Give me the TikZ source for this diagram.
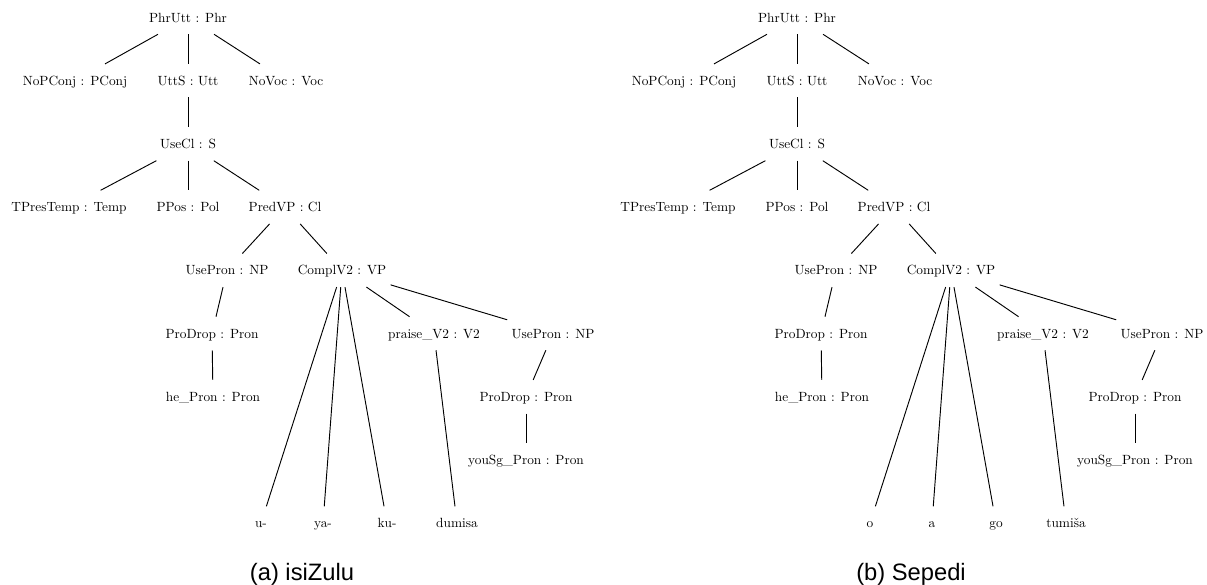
\documentclass[tikz,border=0pt]{standalone}
\usepackage{fontspec}
\usepackage{tikz}
\usepackage{xcolor}
\newfontfamily\capfont{Liberation Sans}

\begin{document}
\begin{tikzpicture}[x=0.75pt, y=-0.75pt, line width=0.7pt,
    lbl/.style={inner xsep=3pt, inner ysep=0pt, minimum height=24.5pt,
      text height=6.8pt, text depth=0pt, font=\fontsize{10}{12}\selectfont},
    subcap/.style={anchor=base, font=\capfont\fontsize{17.8}{20}\selectfont}]
  \useasboundingbox (0,0) rectangle (1207,585);
  \foreach \dx/\tr/\la/\lb/\lc/\ld/\capt in
      {0/a/u-/ya-/ku-/dumisa/{(a) isiZulu}, 609/b/o/a/go/tumiša/{(b) Sepedi}} {
    \begin{scope}[shift={(\dx,0)}]
      % tree
      \node[lbl] (\tr-phr) at (188,17.5) {PhrUtt : Phr};
      \node[lbl] (\tr-conj) at (75,80.7) {NoPConj : PConj};
      \node[lbl] (\tr-utt) at (188,80.7) {UttS : Utt};
      \node[lbl] (\tr-voc) at (286,80.7) {NoVoc : Voc};
      \node[lbl] (\tr-cl) at (188,143.9) {UseCl : S};
      \node[lbl] (\tr-temp) at (69,207.1) {TPresTemp : Temp};
      \node[lbl] (\tr-pol) at (188,207.1) {PPos : Pol};
      \node[lbl] (\tr-pred) at (285,207.1) {PredVP : Cl};
      \node[lbl] (\tr-np) at (227,270.3) {UsePron : NP};
      \node[lbl] (\tr-vp) at (342,270.3) {ComplV2 : VP};
      \node[lbl] (\tr-pron) at (212,333.5) {ProDrop : Pron};
      \node[lbl] (\tr-he) at (213,396.7) {he\_Pron : Pron};
      \node[lbl] (\tr-v) at (434,333.5) {praise\_V2 : V2};
      \node[lbl] (\tr-npb) at (553,333.5) {UsePron : NP};
      \node[lbl] (\tr-pronb) at (526,396.7) {ProDrop : Pron};
      \node[lbl] (\tr-you) at (526,459.9) {youSg\_Pron : Pron};
      % words
      \node[lbl] (\tr-wa) at (261,523.1) {\la};
      \node[lbl] (\tr-wb) at (323,523.1) {\lb};
      \node[lbl] (\tr-wc) at (387,523.1) {\lc};
      \node[lbl] (\tr-wd) at (457,523.1) {\ld};
      \node[subcap] (\tr-cap) at (302,580) {\capt};
      % edges
      \draw (\tr-phr) -- (\tr-conj);
      \draw (\tr-phr) -- (\tr-utt);
      \draw (\tr-phr) -- (\tr-voc);
      \draw (\tr-utt) -- (\tr-cl);
      \draw (\tr-cl) -- (\tr-temp);
      \draw (\tr-cl) -- (\tr-pol);
      \draw (\tr-cl) -- (\tr-pred);
      \draw (\tr-pred) -- (\tr-np);
      \draw (\tr-pred) -- (\tr-vp);
      \draw (\tr-np) -- (\tr-pron);
      \draw (\tr-pron) -- (\tr-he);
      \draw (\tr-vp) -- (\tr-wa);
      \draw (\tr-vp) -- (\tr-wb);
      \draw (\tr-vp) -- (\tr-wc);
      \draw (\tr-vp) -- (\tr-v);
      \draw (\tr-vp) -- (\tr-npb);
      \draw (\tr-v) -- (\tr-wd);
      \draw (\tr-npb) -- (\tr-pronb);
      \draw (\tr-pronb) -- (\tr-you);
    \end{scope}
  }
\end{tikzpicture}
\end{document}
